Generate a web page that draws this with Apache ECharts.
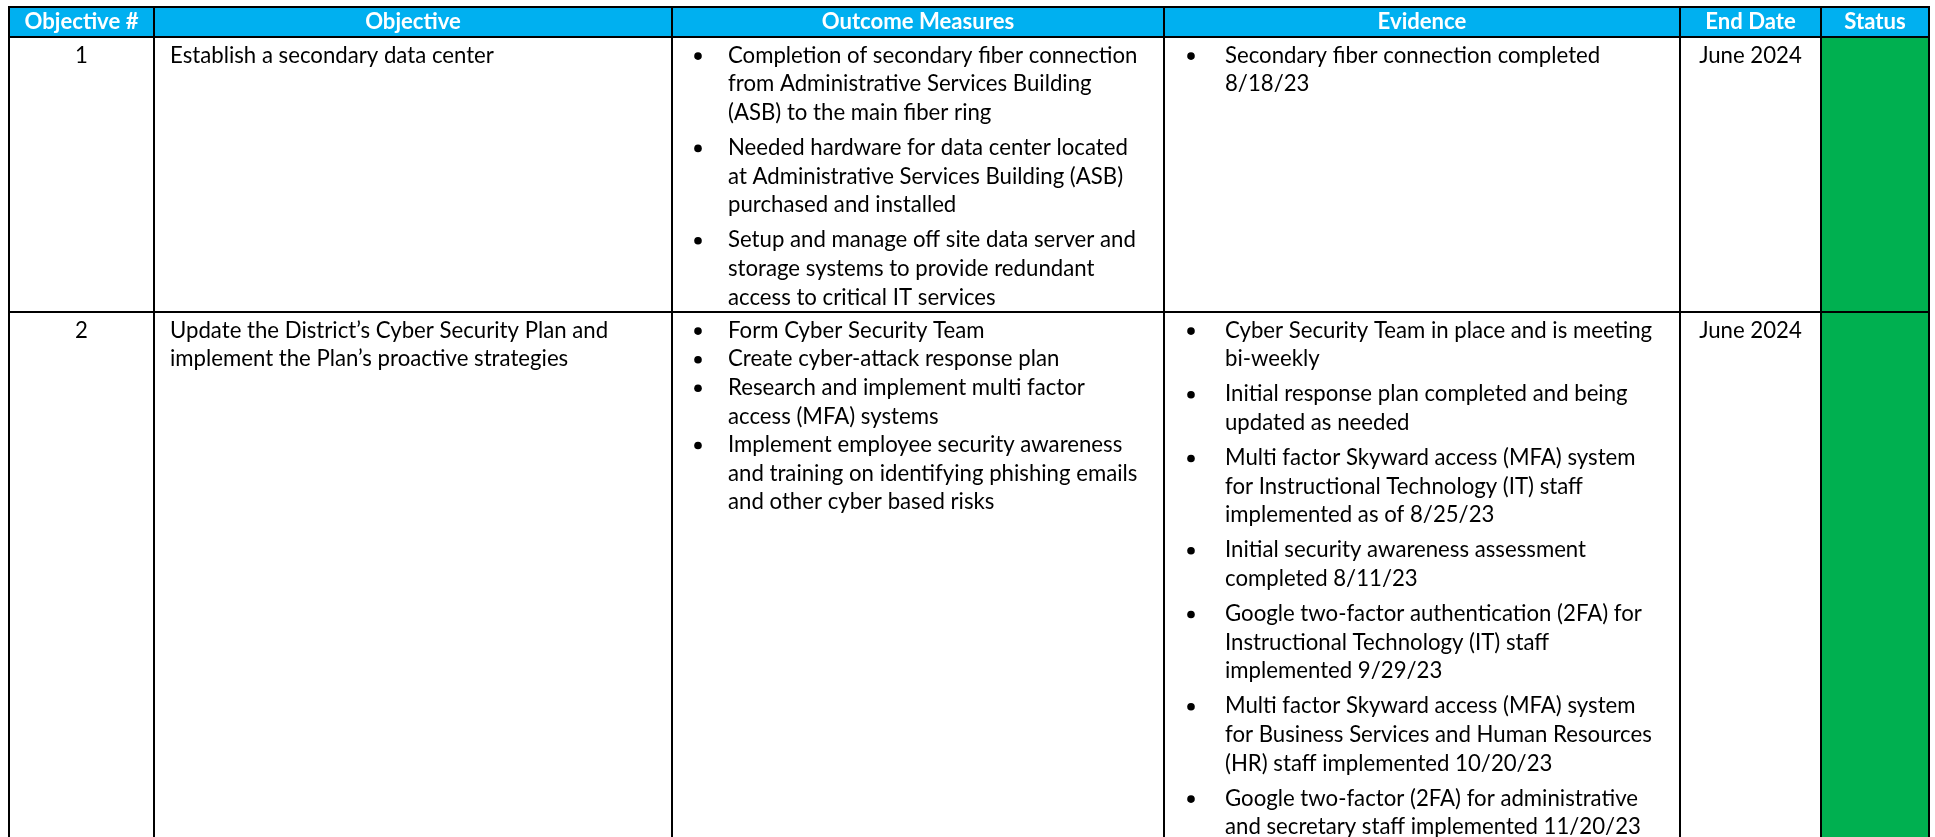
<!DOCTYPE html>
<html>
<head>
<meta charset="utf-8">
<script src="https://cdn.jsdelivr.net/npm/echarts@6/dist/echarts.min.js"></script>
<style>
html,body{margin:0;padding:0;background:#fff;}
#c{width:1935px;height:837px;}
</style>
</head>
<body>
<div id="c"></div>
<script>
// ---------------- DATA ----------------
const headers = ['Objective #', 'Objective', 'Outcome Measures', 'Evidence', 'End Date', 'Status'];
const objectiveNumbers = ['1', '2'];
const objectives = [
  ['Establish a secondary data center'],
  ['Update the District\u2019s Cyber Security Plan and', 'implement the Plan\u2019s proactive strategies']
];
const outcomeMeasures = [
  [
    ['Completion of secondary fiber connection', 'from Administrative Services Building', '(ASB) to the main fiber ring'],
    ['Needed hardware for data center located', 'at Administrative Services Building (ASB)', 'purchased and installed'],
    ['Setup and manage off site data server and', 'storage systems to provide redundant', 'access to critical IT services']
  ],
  [
    ['Form Cyber Security Team'],
    ['Create cyber-attack response plan'],
    ['Research and implement multi factor', 'access (MFA) systems'],
    ['Implement employee security awareness', 'and training on identifying phishing emails', 'and other cyber based risks']
  ]
];
const evidence = [
  [
    ['Secondary fiber connection completed', '8/18/23']
  ],
  [
    ['Cyber Security Team in place and is meeting', 'bi-weekly'],
    ['Initial response plan completed and being', 'updated as needed'],
    ['Multi factor Skyward access (MFA) system', 'for Instructional Technology (IT) staff', 'implemented as of 8/25/23'],
    ['Initial security awareness assessment', 'completed 8/11/23'],
    ['Google two-factor authentication (2FA) for', 'Instructional Technology (IT) staff', 'implemented 9/29/23'],
    ['Multi factor Skyward access (MFA) system', 'for Business Services and Human Resources', '(HR) staff implemented 10/20/23'],
    ['Google two-factor (2FA) for administrative', 'and secretary staff implemented 11/20/23']
  ]
];
const endDates = ['June 2024', 'June 2024'];
const statuses = ['green', 'green'];

// ---------------- LAYOUT / STYLE ----------------
const W = 1935, H = 837;
const colEdges = [9, 154, 672, 1164, 1680, 1821, 1929];
const rowEdges = [7, 37, 312, 900];
const headerColor = '#00B0F0';
const statusColors = { green: '#00B050' };
const headerCenter = 22;
const firstLineOffset = 18.6;
const lineH = 28.6;
const colText = { 1: 16, 2: 56, 3: 61 };
const colBullet = { 2: 26, 3: 27 };
const bulletGap = { '1-2': 6.5, '2-2': 0, '1-3': 6.5, '2-3': 6.5 };
const FONT = 'Lato';

const mctx = document.createElement('canvas').getContext('2d');
function unitWidth(text, weight) {
  mctx.font = weight + ' 100px ' + FONT;
  return mctx.measureText(text).width / 100;
}
const bodySize = (411 / unitWidth('Completion of secondary fiber connection', 'normal') +
                  426 / unitWidth('for Business Services and Human Resources', 'normal')) / 2;
const headSize = 114 / unitWidth('Objective #', 'bold');

// cells: [col, row]
const cells = [];
for (let r = 0; r <= objectiveNumbers.length; r++) {
  for (let c = 0; c < headers.length; c++) cells.push([c, r]);
}

function textEl(pt, txt, opts) {
  return {
    type: 'text',
    x: pt[0], y: pt[1],
    style: {
      text: txt,
      fill: opts.fill || '#000',
      fontSize: opts.size,
      fontFamily: FONT,
      fontWeight: opts.weight || 'normal',
      align: opts.align || 'left',
      verticalAlign: 'middle'
    }
  };
}

function renderCell(params, api) {
  const c = api.value(0), r = api.value(1);
  const x0 = colEdges[c], x1 = colEdges[c + 1], y0 = rowEdges[r], y1 = rowEdges[r + 1];
  const p0 = api.coord([x0, y0]), p1 = api.coord([x1, y1]);
  const children = [];
  let fill = '#fff';
  if (r === 0) fill = headerColor;
  else if (c === 5) fill = statusColors[statuses[r - 1]];
  children.push({
    type: 'rect',
    shape: { x: p0[0], y: p0[1], width: p1[0] - p0[0], height: p1[1] - p0[1] },
    style: { fill: fill }
  });
  if (r === 0) {
    children.push(textEl(api.coord([(x0 + x1) / 2, headerCenter]), headers[c],
      { fill: '#fff', size: headSize, weight: 'bold', align: 'center' }));
    return { type: 'group', children: children };
  }
  const i = r - 1;
  const firstY = y0 + firstLineOffset;
  if (c === 0 || c === 4) {
    const t = c === 0 ? objectiveNumbers[i] : endDates[i];
    children.push(textEl(api.coord([(x0 + x1) / 2, firstY]), t, { size: bodySize, align: 'center' }));
  } else if (c === 1) {
    objectives[i].forEach(function (line, k) {
      children.push(textEl(api.coord([x0 + colText[1], firstY + k * lineH]), line, { size: bodySize }));
    });
  } else if (c === 2 || c === 3) {
    const items = c === 2 ? outcomeMeasures[i] : evidence[i];
    const gap = bulletGap[r + '-' + c];
    let y = firstY;
    items.forEach(function (item, j) {
      if (j > 0) y += lineH + gap;
      const bp = api.coord([x0 + colBullet[c], y]);
      children.push({ type: 'circle', shape: { cx: bp[0], cy: bp[1] + 0.5, r: 3.8 }, style: { fill: '#000' } });
      item.forEach(function (line, k) {
        if (k > 0) y += lineH;
        children.push(textEl(api.coord([x0 + colText[c], y]), line, { size: bodySize }));
      });
    });
  }
  return { type: 'group', children: children };
}

function renderBorder(params, api) {
  const c = api.value(0), r = api.value(1);
  const p0 = api.coord([colEdges[c], rowEdges[r]]), p1 = api.coord([colEdges[c + 1], rowEdges[r + 1]]);
  return {
    type: 'rect',
    shape: { x: p0[0], y: p0[1], width: p1[0] - p0[0], height: p1[1] - p0[1] },
    style: { fill: 'none', stroke: '#000', lineWidth: 2 }
  };
}

const chart = echarts.init(document.getElementById('c'), null, { renderer: 'canvas' });
chart.setOption({
  animation: false,
  backgroundColor: '#fff',
  grid: { left: 0, right: 0, top: 0, bottom: 0 },
  xAxis: { type: 'value', min: 0, max: W, show: false },
  yAxis: { type: 'value', min: 0, max: H, inverse: true, show: false },
  series: [
    { type: 'custom', name: 'cells', clip: true, silent: true, z: 1, data: cells, renderItem: renderCell },
    { type: 'custom', name: 'borders', clip: true, silent: true, z: 2, data: cells, renderItem: renderBorder }
  ]
});
</script>
</body>
</html>
